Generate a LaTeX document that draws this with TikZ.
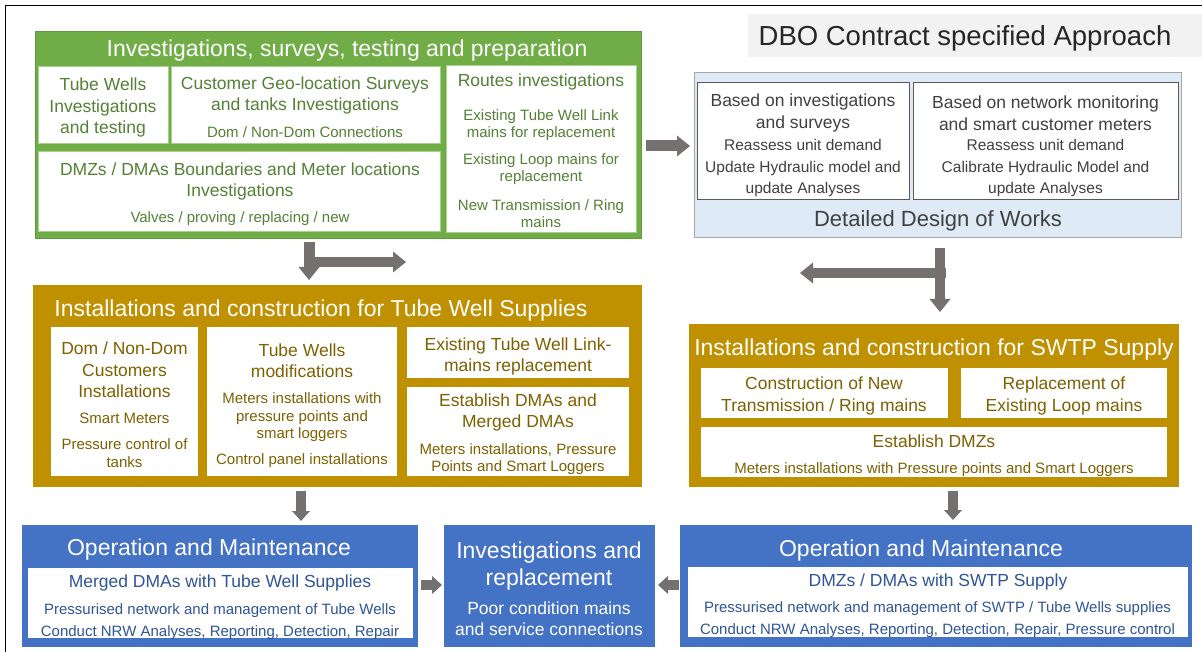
\documentclass[tikz,border=0pt]{standalone}
\usepackage{fontspec}
\setmainfont{Liberation Sans}
\usetikzlibrary{arrows.meta}
\definecolor{grn}{HTML}{70AD47}
\definecolor{grnb}{HTML}{5E9A3A}
\definecolor{grnt}{HTML}{538135}
\definecolor{grnl}{HTML}{A9D18E}
\definecolor{gld}{HTML}{BF9000}
\definecolor{gldt}{HTML}{7F6000}
\definecolor{blu}{HTML}{4472C4}
\definecolor{blut}{HTML}{2F5597}
\definecolor{dsg}{HTML}{DEEBF7}
\definecolor{dsgb}{HTML}{A6A6A6}
\definecolor{dkg}{HTML}{404040}
\definecolor{dkb}{HTML}{595959}
\definecolor{arr}{HTML}{767171}
\definecolor{lgr}{HTML}{F2F2F2}
\newcommand\fT{\fontsize{23}{27}\selectfont}
\newcommand\fH{\fontsize{17.5}{21.5}\selectfont}
\newcommand\fD{\fontsize{15}{17.5}\selectfont}
\newcommand\fDD{\fontsize{15.5}{21.5}\selectfont}
\newcommand\bx[6]{\node[#6,anchor=north west,minimum width={(#4)-(#2)},minimum height={(#5)-(#3)}] (#1) at (#2,#3) {};}
\begin{document}
\begin{tikzpicture}[x=1pt,y=-1pt,
  box/.style={rectangle,inner sep=0pt,outer sep=0pt},
  gbox/.style={box,fill=grn,draw=grnb,line width=0.8pt},
  gin/.style={box,fill=white,draw=grnl,line width=0.8pt},
  obox/.style={box,fill=gld},
  oin/.style={box,fill=white},
  bbox/.style={box,fill=blu},
  bin/.style={box,fill=white},
  dbox/.style={box,fill=dsg,draw=dsgb,line width=1pt},
  din/.style={box,fill=white,draw=dkb,line width=1pt},
  tbox/.style={box,fill=lgr},
  txt/.style={inner sep=0pt,outer sep=0pt,align=center,yshift=-2.5pt},
  wtitle/.style={txt,text=white,font=\fT},
  ghead/.style={txt,text=grnt,font=\fH},
  gdet/.style={txt,text=grnt,font=\fD},
  ohead/.style={txt,text=gldt,font=\fH},
  odet/.style={txt,text=gldt,font=\fD},
  bhead/.style={txt,text=blut,font=\fH},
  bdet/.style={txt,text=blut,font=\fontsize{15}{22}\selectfont},
  dhead/.style={txt,text=dkg,font=\fH},
  ddet/.style={txt,text=dkg,font=\fDD},
  bigarrow/.style={draw=arr,line width=11pt,-{Triangle[width=21pt,length=13pt,line width=0pt]}},
  smallarrow/.style={draw=arr,line width=10pt,-{Triangle[width=18pt,length=10pt,line width=0pt]}}]
\useasboundingbox (0,0) rectangle (1202,652);
\fill[white] (0,0) rectangle (1202,652);
\draw[line width=1.8pt,black] (5.5,652) -- (5.5,5.5) -- (1202,5.5);

% DBO title
\bx{dbo}{748}{14}{1202}{57}{tbox}
\node[txt,text=black!85,font=\fontsize{27.5}{31}\selectfont] (dbot) at (965,36) {DBO Contract specified Approach};

% Green box
\bx{G}{35}{31}{641}{238}{gbox}
\node[wtitle] (Gt) at (347,48) {Investigations, surveys, testing and preparation};
\bx{g1}{38}{66}{168}{143}{gin}
\bx{g2}{171}{66}{440}{143}{gin}
\bx{g3}{38}{151}{440}{231}{gin}
\bx{g4}{446}{65}{636}{232}{gin}
\node[ghead] (g1a) at (103,105) {Tube Wells\\Investigations\\and testing};
\node[ghead] (g2a) at (305,93) {Customer Geo-location Surveys\\and tanks Investigations};
\node[gdet] (g2b) at (305,130) {Dom / Non-Dom Connections};
\node[ghead] (g3a) at (240,179) {DMZs / DMAs Boundaries and Meter locations\\Investigations};
\node[gdet] (g3b) at (240,216) {Valves / proving / replacing / new};
\node[ghead] (g4a) at (541,79) {Routes investigations};
\node[gdet] (g4b) at (541,122.5) {Existing Tube Well Link\\mains for replacement};
\node[gdet] (g4c) at (541,166.5) {Existing Loop mains for\\replacement};
\node[gdet] (g4d) at (541,211) {New Transmission / Ring\\mains};

% Design box
\bx{D}{694}{73}{1181}{238}{dbox}
\bx{d1}{697}{83}{909}{200}{din}
\bx{d2}{913}{83}{1178}{200}{din}
\node[dhead] (d1a) at (803,110.5) {Based on investigations\\and surveys};
\node[ddet] (d1b) at (803,165.5) {Reassess unit demand\\Update Hydraulic model and\\update Analyses};
\node[dhead] (d2a) at (1045.5,110.5) {Based on network monitoring\\and smart customer meters};
\node[ddet] (d2b) at (1045.5,165.5) {Reassess unit demand\\Calibrate Hydraulic Model and\\update Analyses};
\node[txt,text=dkg,font=\fontsize{22}{26}\selectfont] (Dt) at (938,218) {Detailed Design of Works};

% Gold left
\bx{L}{33}{285}{642}{487}{obox}
\node[wtitle] (Lt) at (321,308) {Installations and construction for Tube Well Supplies};
\bx{l1}{51}{327}{198}{476}{oin}
\bx{l2}{207}{327}{397}{476}{oin}
\bx{l3}{407}{327}{629}{378}{oin}
\bx{l4}{407}{387}{629}{476}{oin}
\node[ohead] (l1a) at (124.5,367.5) {Dom / Non-Dom\\Customers\\Installations};
\node[odet] (l1b) at (124.5,416) {Smart Meters};
\node[odet] (l1c) at (124.5,450.5) {Pressure control of\\tanks};
\node[ohead] (l2a) at (302,358) {Tube Wells\\modifications};
\node[odet] (l2b) at (302,415) {Meters installations with\\pressure points and\\smart loggers};
\node[odet] (l2c) at (302,458) {Control panel installations};
\node[ohead] (l3a) at (518,354) {Existing Tube Well Link-\\mains replacement};
\node[ohead] (l4a) at (518,410) {Establish DMAs and\\Merged DMAs};
\node[odet] (l4b) at (518,456.5) {Meters installations, Pressure\\Points and Smart Loggers};

% Gold right
\bx{R}{689}{324}{1179}{487}{obox}
\node[wtitle] (Rt) at (934,347) {Installations and construction for SWTP Supply};
\bx{r1}{701}{368}{948}{418}{oin}
\bx{r2}{961}{368}{1167}{418}{oin}
\bx{r3}{701}{427}{1167}{477}{oin}
\node[ohead] (r1a) at (824,393.5) {Construction of New\\Transmission / Ring mains};
\node[ohead] (r2a) at (1064,393.5) {Replacement of\\Existing Loop mains};
\node[ohead] (r3a) at (934,439) {Establish DMZs};
\node[odet] (r3b) at (934,467) {Meters installations with Pressure points and Smart Loggers};

% Blue boxes
\bx{BL}{22}{525}{418}{647}{bbox}
\node[wtitle] (BLt) at (209,547) {Operation and Maintenance};
\bx{bl1}{28}{568}{413}{638}{bin}
\node[bhead] (bl1a) at (220,580) {Merged DMAs with Tube Well Supplies};
\node[bdet] (bl1b) at (220,619) {Pressurised network and management of Tube Wells\\Conduct NRW Analyses, Reporting, Detection, Repair};

\bx{BM}{444}{525}{655}{647}{bbox}
\node[txt,text=white,font=\fontsize{23}{27}\selectfont] (BMa) at (549,563.5) {Investigations and\\replacement};
\node[txt,text=white,font=\fontsize{17.5}{21}\selectfont] (BMb) at (549,616.5) {Poor condition mains\\and service connections};

\bx{BR}{680}{525}{1192}{647}{bbox}
\node[wtitle] (BRt) at (921,548) {Operation and Maintenance};
\bx{br1}{688}{567}{1188}{637}{bin}
\node[bhead] (br1a) at (938,579) {DMZs / DMAs with SWTP Supply};
\node[bdet] (br1b) at (937.5,617.5) {Pressurised network and management of SWTP / Tube Wells supplies\\Conduct NRW Analyses, Reporting, Detection, Repair, Pressure control};

% Arrow end points
\coordinate (a1s) at (646,146);
\coordinate (a1e) at (690,146);
\coordinate (a2s) at (309,242);
\coordinate (a2e) at (309,280);
\coordinate (a3s) at (314.5,262);
\coordinate (a3e) at (406,262);
\coordinate (a4s) at (940,248);
\coordinate (a4e) at (940,312);
\coordinate (a5s) at (945.5,273);
\coordinate (a5e) at (800,273);
\coordinate (a6s) at (301,491);
\coordinate (a6e) at (301,521);
\coordinate (a7s) at (953,491);
\coordinate (a7e) at (953,520);
\coordinate (a8s) at (421,585);
\coordinate (a8e) at (442,585);
\coordinate (a9s) at (679,585);
\coordinate (a9e) at (658,585);

\draw[bigarrow] (a1s) -- (a1e);
\draw[bigarrow] (a2s) -- (a2e);
\draw[bigarrow,line width=10pt] (a3s) -- (a3e);
\draw[bigarrow,line width=10pt] (a5s) -- (a5e);
\draw[bigarrow,line width=10pt] (a4s) -- (a4e);
\draw[smallarrow] (a6s) -- (a6e);
\draw[smallarrow] (a7s) -- (a7e);
\draw[smallarrow] (a8s) -- (a8e);
\draw[smallarrow] (a9s) -- (a9e);
\end{tikzpicture}
\end{document}
